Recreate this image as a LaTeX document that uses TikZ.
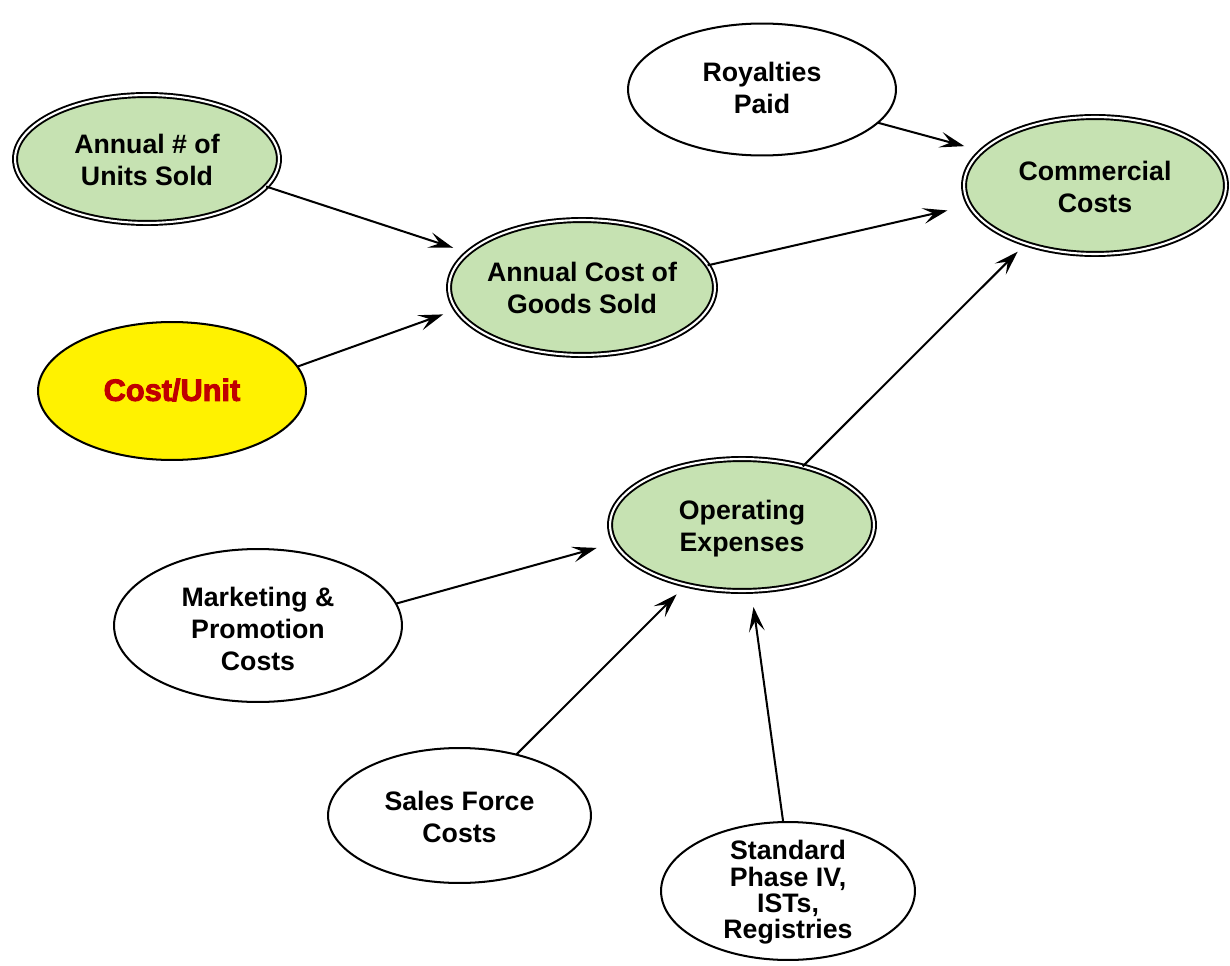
\documentclass[tikz,border=0pt]{standalone}
\usepackage{fontspec}
\setmainfont{Liberation Sans}
\newfontfamily\heavyfont[BoldFeatures={FakeBold=3}]{Liberation Sans}
\usetikzlibrary{arrows.meta,shapes.geometric}

\definecolor{nodegreen}{RGB}{198,226,178}
\definecolor{costred}{RGB}{192,0,0}

\begin{document}
\begin{tikzpicture}[x=0.02cm,y=-0.02cm,
  size/.style 2 args={minimum width=#1*0.04cm, minimum height=#2*0.04cm},
  oval/.style={ellipse, draw=black, line width=1.15pt, inner sep=0pt, outer sep=0pt, fill=white},
  keynode/.style={oval, fill=nodegreen, line width=1.1pt, double=white, double distance=1.2pt},
  txt/.style={font=\bfseries\fontsize{15.2}{18.2}\selectfont, align=center, inner sep=0pt},
  arr/.style={-{Stealth[length=14pt,width=9pt,inset=6pt]}, line width=1.15pt}
]
\useasboundingbox (0,0) rectangle (1230,966);

% ellipses
\node[keynode, size={132}{64}]      (units) at (147,159)   {};
\node[oval, fill=yellow, size={134}{69}] (cost) at (172,391) {};
\node[keynode, size={133}{67.5}]    (cogs)  at (582,287.5) {};
\node[oval, size={134}{66}]         (roy)   at (762,89.5)  {};
\node[keynode, size={131}{68.5}]    (comm)  at (1095,185.5) {};
\node[keynode, size={132}{66}]      (opex)  at (742,525)   {};
\node[oval, size={144}{76.5}]       (mkt)   at (258,625.5) {};
\node[oval, size={131.5}{67.5}]     (sales) at (459.5,815.5) {};
\node[oval, size={127}{69}]         (std)   at (788,891)   {};

% labels
\node[txt] (unitsT) at (147,160)   {Annual \# of\\Units Sold};
\node[inner sep=0pt, text=costred, font=\heavyfont\bfseries\fontsize{17.5}{21}\selectfont] (costT) at (172,390) {Cost/Unit};
\node[txt] (cogsT)  at (582,288)   {Annual Cost of\\Goods Sold};
\node[txt] (royT)   at (762,87.5)  {Royalties\\Paid};
\node[txt] (commT)  at (1095,187)  {Commercial\\Costs};
\node[txt] (opexT)  at (742,529)   {Operating\\Expenses};
\node[txt] (mktT)   at (258,629)   {Marketing \&\\Promotion\\Costs};
\node[txt] (salesT) at (459.5,816.5) {Sales Force\\Costs};
\node[txt, font=\bfseries\fontsize{15.2}{15}\selectfont] (stdT) at (788,892.5) {Standard\\Phase IV,\\ISTs,\\Registries};

% influences
\draw[arr, shorten >=9.0pt]  (units.-13.3) -- (cogs.163);
\draw[arr, shorten >=8.0pt]  (cost.11.1)   -- (cogs.190.4);
\draw[arr, shorten >=13.0pt] (cogs.10.6)   -- (comm.189);
\draw[arr, shorten >=10.4pt] (roy.-16.6)   -- (comm.163.7);
\draw[arr, shorten >=6.5pt]  (opex.44.5)   -- (comm.220);
\draw[arr, shorten >=10.8pt] (mkt.9.6)     -- (opex.188.6);
\draw[arr, shorten >=7.7pt]  (sales.47.8)  -- (opex.227.6);
\draw[arr, shorten >=9.3pt]  (std.94.9)    -- (opex.-82.4);
\end{tikzpicture}
\end{document}
